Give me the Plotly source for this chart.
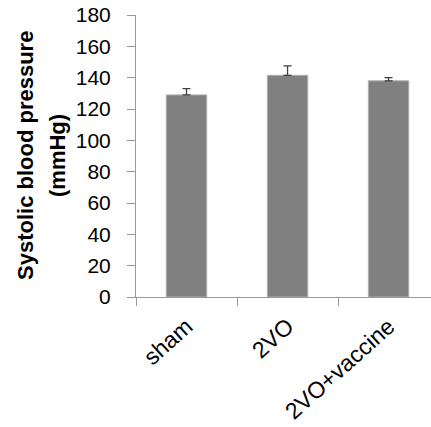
import plotly.graph_objects as go

categories = ["sham", "2VO", "2VO+vaccine"]
values = [129, 141.5, 138]
errors = [4, 6, 2]
y_ticks = [0, 20, 40, 60, 80, 100, 120, 140, 160, 180]
y_title_lines = ["Systolic blood pressure", "(mmHg)"]

fig = go.Figure(go.Bar(
    x=categories, y=values,
    marker=dict(color="#808080", line=dict(color="#b0b0b0", width=1)),
    error_y=dict(type="data", array=errors, symmetric=False, arrayminus=[0, 0, 0],
                 color="#404040", thickness=1.3, width=4),
))

fig.update_layout(
    width=431, height=427,
    margin=dict(l=136, r=0, t=15, b=130),
    plot_bgcolor="white", paper_bgcolor="white",
    bargap=0.6, showlegend=False,
    font=dict(family="Liberation Sans, Arial", color="black", size=20),
)
for line, shift in zip(y_title_lines, [-111, -79]):
    fig.add_annotation(text="<b>" + line + "</b>", xref="paper", yref="paper",
                       x=0, y=0.5, xshift=shift, textangle=-90, showarrow=False,
                       xanchor="center", yanchor="middle", font=dict(size=22))

fig.update_yaxes(
    range=[0, 180], tickvals=y_ticks, showgrid=False, zeroline=False,
    showline=True, linecolor="#999999", linewidth=1,
    ticks="outside", ticklen=8, tickcolor="#999999",
    tickfont=dict(size=21), ticklabelstandoff=12, automargin=False,
)
fig.update_xaxes(
    range=[-0.5, 2.42], showgrid=False, showline=True, linecolor="#999999", linewidth=1,
    ticks="outside", ticklen=8, tickcolor="#999999", tickson="boundaries",
    tickangle=-42, tickfont=dict(size=23), ticklabelstandoff=6, automargin=False,
)

fig.write_html("out.html", config={"displayModeBar": False},
               post_script="document.body.style.margin='0';")
